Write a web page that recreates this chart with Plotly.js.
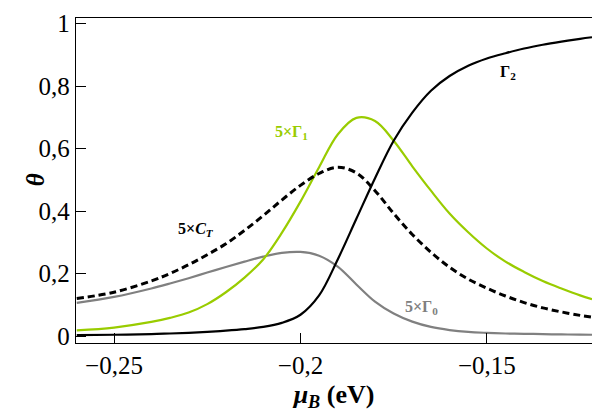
<!DOCTYPE html>
<html>
<head>
<meta charset="utf-8">
<script src="https://cdn.plot.ly/plotly-3.0.1.min.js"></script>
<style>html,body{margin:0;padding:0;background:#fff}#chart{width:592px;height:412px}</style>
</head>
<body>
<div id="chart"></div>
<script>
const muB      = [-0.26, -0.25, -0.24, -0.235, -0.23, -0.225, -0.22, -0.215, -0.21, -0.205, -0.20, -0.195, -0.19, -0.185, -0.18, -0.175, -0.17, -0.165, -0.16, -0.155, -0.15, -0.145, -0.14, -0.135, -0.13, -0.125, -0.1218];
const gamma0x5 = [0.106, 0.125, 0.152, 0.168, 0.185, 0.203, 0.221, 0.238, 0.254, 0.266, 0.269, 0.257, 0.222, 0.165, 0.110, 0.072, 0.046, 0.029, 0.019, 0.013, 0.010, 0.008, 0.007, 0.006, 0.005, 0.0045, 0.004];
const gamma1x5 = [0.018, 0.027, 0.045, 0.058, 0.075, 0.102, 0.140, 0.187, 0.245, 0.330, 0.430, 0.540, 0.645, 0.698, 0.688, 0.625, 0.543, 0.465, 0.392, 0.332, 0.280, 0.238, 0.205, 0.176, 0.152, 0.130, 0.118];
const cTx5     = [0.120, 0.140, 0.176, 0.200, 0.228, 0.260, 0.295, 0.338, 0.385, 0.435, 0.482, 0.520, 0.540, 0.522, 0.465, 0.392, 0.325, 0.268, 0.220, 0.182, 0.153, 0.128, 0.107, 0.090, 0.077, 0.066, 0.060];
const gamma2   = [0.003, 0.004, 0.006, 0.008, 0.010, 0.013, 0.017, 0.022, 0.029, 0.042, 0.068, 0.130, 0.245, 0.375, 0.505, 0.625, 0.715, 0.785, 0.832, 0.865, 0.888, 0.905, 0.920, 0.932, 0.942, 0.951, 0.956];
const yTicks   = [0, 0.2, 0.4, 0.6, 0.8, 1];
const xTicks   = [-0.25, -0.2, -0.15];

const serif = "'Liberation Serif', 'Times New Roman', Times, serif";
const green = '#99cc00';
const gray = '#808080';

const traces = [
  {x: muB, y: gamma0x5, mode: 'lines', line: {color: gray, width: 2.2, shape: 'spline', smoothing: 1}},
  {x: muB, y: gamma1x5, mode: 'lines', line: {color: green, width: 2.2, shape: 'spline', smoothing: 1}},
  {x: muB, y: cTx5, mode: 'lines', line: {color: '#000', width: 3, dash: '7px,4px', shape: 'spline', smoothing: 1}},
  {x: muB, y: gamma2, mode: 'lines', line: {color: '#000', width: 2.2, shape: 'spline', smoothing: 1}}
];

const layout = {
  width: 592, height: 412,
  margin: {l: 76, r: 0, t: 18, b: 69},
  paper_bgcolor: '#fff', plot_bgcolor: '#fff',
  showlegend: false,
  separators: ',.',
  font: {family: serif, color: '#000', size: 24},
  xaxis: {
    range: [-0.2602, -0.1218], tickvals: xTicks, ticks: 'inside', ticklen: 10, tickcolor: '#000', tickwidth: 1,
    showgrid: false, zeroline: false, showline: true, linecolor: '#000', linewidth: 1.3, mirror: true,
    tickfont: {family: serif, size: 25, color: '#000'},
    title: {text: '<b><i>μ</i><sub><i>B</i></sub> (eV)</b>', font: {family: serif, size: 26, color: '#000'}, standoff: 9}
  },
  yaxis: {
    range: [-0.0224, 1.0176], tickvals: yTicks, ticks: 'inside', ticklen: 10, tickcolor: '#000', tickwidth: 1,
    showgrid: false, zeroline: false, showline: true, linecolor: '#000', linewidth: 1.3, mirror: false,
    tickfont: {family: serif, size: 25, color: '#000'}
  },
  annotations: [
    {x: -0.1085, y: 0.5, xref: 'paper', yref: 'y', showarrow: false, textangle: -90, text: '<b><i>θ</i></b>', font: {family: serif, size: 25, color: '#000'}},
    {x: -0.1444, y: 0.842, xref: 'x', yref: 'y', showarrow: false, text: '<b>Γ<sub>2</sub></b>', font: {family: serif, size: 16, color: '#000'}},
    {x: -0.2023, y: 0.65, xref: 'x', yref: 'y', showarrow: false, text: '<b>5×Γ<sub>1</sub></b>', font: {family: serif, size: 16, color: green}},
    {x: -0.228, y: 0.342, xref: 'x', yref: 'y', showarrow: false, text: '<b>5×<i>C<sub>T</sub></i></b>', font: {family: serif, size: 16, color: '#000'}},
    {x: -0.1674, y: 0.09, xref: 'x', yref: 'y', showarrow: false, text: '<b>5×Γ<sub>0</sub></b>', font: {family: serif, size: 16, color: gray}}
  ]
};

Plotly.newPlot('chart', traces, layout, {staticPlot: true, displayModeBar: false});
</script>
</body>
</html>
